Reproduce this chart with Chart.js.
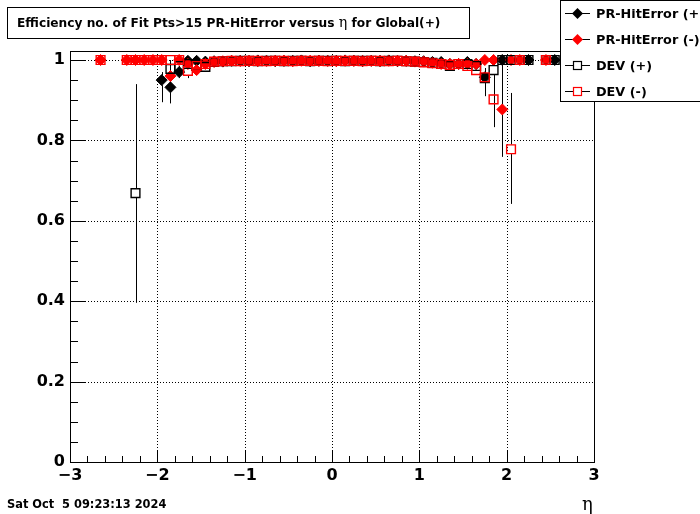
<!DOCTYPE html>
<html><head><meta charset="utf-8">
<script src="https://cdn.jsdelivr.net/npm/chart.js@4/dist/chart.umd.min.js"></script>
<style>html,body{margin:0;padding:0;background:#fff;}canvas{display:block;}</style>
</head><body>
<canvas id="c" width="700" height="514"></canvas>
<script>
// ---------- data ----------
const titlePre = 'Efficiency no. of Fit Pts>15 PR-HitError versus ';
const titleEta = 'η';
const titlePost = ' for Global(+)';
const seriesNames = ['PR-HitError (+)', 'PR-HitError (-)', 'DEV (+)', 'DEV (-)'];
const xTickValues = [-3, -2, -1, 0, 1, 2, 3];
const yTickValues = [0, 0.2, 0.4, 0.6, 0.8, 1];
const dateText = 'Sat Oct  5 09:23:13 2024';
const xAxisTitle = 'η';

const etaPRp = [-1.95,-1.85,-1.75,-1.65,-1.55,-1.45,-1.35,-1.25,-1.15,-1.05,-0.95,-0.85,-0.75,-0.65,-0.55,-0.45,-0.35,-0.25,-0.15,-0.05,0.05,0.15,0.25,0.35,0.45,0.55,0.65,0.75,0.85,0.95,1.05,1.15,1.25,1.35,1.45,1.55,1.65,1.75,1.95,2.25,2.55];
const effPRp = [0.950,0.932,0.970,0.998,0.998,0.996,0.997,0.996,0.998,0.998,0.997,0.999,0.998,0.997,0.998,0.998,0.999,0.997,0.998,0.998,0.998,0.999,0.998,0.997,0.998,0.998,0.999,0.997,0.998,0.997,0.997,0.995,0.995,0.990,0.990,0.995,0.990,0.957,1.0,1.0,1.0];

const etaPRm = [-2.65,-2.35,-2.25,-2.15,-2.05,-1.95,-1.85,-1.75,-1.65,-1.55,-1.45,-1.35,-1.25,-1.15,-1.05,-0.95,-0.85,-0.75,-0.65,-0.55,-0.45,-0.35,-0.25,-0.15,-0.05,0.05,0.15,0.25,0.35,0.45,0.55,0.65,0.75,0.85,0.95,1.05,1.15,1.25,1.35,1.45,1.55,1.65,1.75,1.85,1.95,2.05,2.15,2.45];
const effPRm = [1,1,1,1,1,1,0.960,1.0,0.990,0.975,0.990,0.995,0.997,0.998,0.998,0.998,0.997,0.998,0.998,0.998,0.997,0.998,0.998,0.998,0.998,0.997,0.998,0.998,0.998,0.998,0.997,0.998,0.998,0.998,0.996,0.996,0.993,0.990,0.990,0.990,0.990,0.990,1.0,1.0,0.877,1.0,1.0,1.0];

const etaDEVp = [-2.25,-1.85,-1.75,-1.65,-1.55,-1.45,-1.35,-1.25,-1.15,-1.05,-0.95,-0.85,-0.75,-0.65,-0.55,-0.45,-0.35,-0.25,-0.15,-0.05,0.05,0.15,0.25,0.35,0.45,0.55,0.65,0.75,0.85,0.95,1.05,1.15,1.25,1.35,1.45,1.55,1.65,1.75,1.85,1.95,2.05,2.15,2.25,2.45,2.55];
const effDEVp = [0.669,0.978,0.985,0.990,0.985,0.983,0.995,0.997,0.997,0.998,0.998,0.997,0.998,0.998,0.997,0.998,0.998,0.997,0.998,0.998,0.998,0.997,0.998,0.998,0.998,0.997,0.998,0.998,0.997,0.996,0.995,0.993,0.990,0.985,0.990,0.990,0.985,0.955,0.975,1.0,1.0,1.0,1.0,1.0,1.0];

const etaDEVm = [-2.65,-2.35,-2.25,-2.15,-2.05,-1.95,-1.85,-1.75,-1.65,-1.55,-1.45,-1.35,-1.25,-1.15,-1.05,-0.95,-0.85,-0.75,-0.65,-0.55,-0.45,-0.35,-0.25,-0.15,-0.05,0.05,0.15,0.25,0.35,0.45,0.55,0.65,0.75,0.85,0.95,1.05,1.15,1.25,1.35,1.45,1.55,1.65,1.75,1.85,2.05,2.15,2.45];
const effDEVm = [1,1,1,1,1,1,1,1,0.973,0.985,0.990,0.996,0.997,0.998,0.997,0.998,0.998,0.997,0.998,0.998,0.997,0.998,0.998,0.998,0.997,0.998,0.998,0.998,0.997,0.998,0.998,0.997,0.998,0.997,0.996,0.994,0.992,0.990,0.988,0.990,0.985,0.975,0.957,0.902,0.778,1,1];

// error bars: series index, eta, lower, upper
const errSeries = [0, 0, 0, 1, 2, 0, 2, 1, 3, 3, 2];
const errEta    = [-1.95, -1.85, -1.75, -1.85, -2.25, 1.75, 1.85, 1.95, 2.05, -1.65, 1.75];
const errLow    = [0.895, 0.892, 0.955, 0.940, 0.396, 0.910, 0.833, 0.759, 0.642, 0.955, 0.935];
const errHigh   = [0.970, 1.000, 0.985, 0.975, 0.940, 0.980, 1.000, 1.000, 0.918, 0.990, 0.975];

// ---------- styles ----------
const RED = '#ff0000', BLACK = '#000000';
const seriesColor = [BLACK, RED, BLACK, RED];
const seriesStyle = ['rectRot', 'rectRot', 'rect', 'rect'];

function pts(xs, ys) { return xs.map((x, i) => ({ x: x, y: ys[i] })); }

const datasets = [
  { label: seriesNames[0], data: pts(etaPRp, effPRp), pointStyle: 'rectRot', pointRadius: 5.5, backgroundColor: BLACK, borderColor: BLACK, borderWidth: 1, order: 4 },
  { label: seriesNames[1], data: pts(etaPRm, effPRm), pointStyle: 'rectRot', pointRadius: 5.5, backgroundColor: RED, borderColor: RED, borderWidth: 1, order: 3 },
  { label: seriesNames[2], data: pts(etaDEVp, effDEVp), pointStyle: 'rect', pointRadius: 6.2, backgroundColor: 'rgba(0,0,0,0)', borderColor: BLACK, borderWidth: 1.4, order: 2 },
  { label: seriesNames[3], data: pts(etaDEVm, effDEVm), pointStyle: 'rect', pointRadius: 6.2, backgroundColor: 'rgba(0,0,0,0)', borderColor: RED, borderWidth: 1.4, order: 1 }
];

const rootDeco = {
  id: 'rootDeco',
  beforeDatasetsDraw(chart) {
    const ctx = chart.ctx, a = chart.chartArea, xs = chart.scales.x, ys = chart.scales.y;
    ctx.save();
    ctx.strokeStyle = BLACK; ctx.lineWidth = 1; ctx.setLineDash([1, 2]);
    xTickValues.forEach(v => {
      if (v === xs.min || v === xs.max) return;
      const px = Math.round(xs.getPixelForValue(v)) + 0.5;
      ctx.beginPath(); ctx.moveTo(px, a.top); ctx.lineTo(px, a.bottom); ctx.stroke();
    });
    yTickValues.forEach(v => {
      if (v === 0) return;
      const py = Math.round(ys.getPixelForValue(v)) + 0.5;
      ctx.beginPath(); ctx.moveTo(a.left, py); ctx.lineTo(a.right, py); ctx.stroke();
    });
    ctx.setLineDash([]);
    // error bars
    ctx.lineWidth = 1;
    for (let i = 0; i < errEta.length; i++) {
      const px = Math.round(xs.getPixelForValue(errEta[i])) + 0.5;
      const ds = chart.data.datasets[errSeries[i]];
      const pt = ds.data.find(p => Math.abs(p.x - errEta[i]) < 1e-6);
      const yc = ys.getPixelForValue(pt.y);
      const gap = seriesStyle[errSeries[i]] === 'rect' ? 4.8 : 5;
      const yl = ys.getPixelForValue(errLow[i]), yh = ys.getPixelForValue(errHigh[i]);
      ctx.beginPath();
      if (yh < yc - gap) { ctx.moveTo(px, yh); ctx.lineTo(px, yc - gap); }
      if (yl > yc + gap) { ctx.moveTo(px, yc + gap); ctx.lineTo(px, yl); }
      ctx.stroke();
    }
    ctx.restore();
  },
  afterDraw(chart) {
    const ctx = chart.ctx, a = chart.chartArea, xs = chart.scales.x, ys = chart.scales.y;
    ctx.save();
    ctx.strokeStyle = BLACK; ctx.lineWidth = 1;
    // frame
    ctx.strokeRect(a.left + 0.5, a.top + 0.5, a.right - a.left, a.bottom - a.top);
    // x ticks (inside)
    ctx.beginPath();
    for (let k = -15; k <= 15; k++) {
      const v = k * 0.2;
      const px = Math.round(xs.getPixelForValue(v)) + 0.5;
      const len = (k % 5 === 0) ? 12 : 6;
      ctx.moveTo(px, a.bottom); ctx.lineTo(px, a.bottom - len);
    }
    // y ticks (inside)
    for (let k = 0; k <= 20; k++) {
      const v = k * 0.05;
      if (v > ys.max) continue;
      const py = Math.round(ys.getPixelForValue(v)) + 0.5;
      const len = (k % 4 === 0) ? 15 : 8;
      ctx.moveTo(a.left, py); ctx.lineTo(a.left + len, py);
    }
    ctx.stroke();

    // title box
    ctx.fillStyle = '#fff';
    ctx.fillRect(7, 7, 462, 31);
    ctx.strokeRect(7.5, 7.5, 462, 31);
    ctx.fillStyle = BLACK;
    const fam = '"DejaVu Sans"';
    let fs = 12.2;
    ctx.font = 'bold ' + fs + 'px ' + fam;
    ctx.textBaseline = 'alphabetic';
    ctx.textAlign = 'left';
    let x = 17, base = 27;
    ctx.fillText(titlePre, x, base);
    x += ctx.measureText(titlePre).width;
    ctx.font = (fs + 2) + 'px "DejaVu Serif"';
    ctx.fillText(titleEta, x, base);
    x += ctx.measureText(titleEta).width;
    ctx.font = 'bold ' + fs + 'px ' + fam;
    ctx.fillText(titlePost, x, base);

    // legend box
    ctx.fillStyle = '#fff';
    ctx.fillRect(560, 0, 140, 102);
    ctx.strokeRect(560.5, 0.5, 150, 101);
    const rowY = [13, 39, 65, 91];
    for (let i = 0; i < 4; i++) {
      const y = rowY[i] + 0.5;
      ctx.strokeStyle = BLACK; ctx.lineWidth = 1;
      ctx.beginPath(); ctx.moveTo(565, y); ctx.lineTo(590, y); ctx.stroke();
      const cx = 577.5;
      if (seriesStyle[i] === 'rectRot') {
        ctx.fillStyle = seriesColor[i];
        ctx.beginPath();
        ctx.moveTo(cx, y - 5.5); ctx.lineTo(cx + 5.5, y); ctx.lineTo(cx, y + 5.5); ctx.lineTo(cx - 5.5, y); ctx.closePath();
        ctx.fill();
      } else {
        ctx.fillStyle = '#fff';
        ctx.fillRect(cx - 4, y - 4, 8, 8);
        ctx.strokeStyle = seriesColor[i]; ctx.lineWidth = 1.2;
        ctx.strokeRect(cx - 4, y - 4, 8, 8);
      }
      ctx.fillStyle = BLACK;
      ctx.font = 'bold 12.8px ' + fam;
      ctx.textBaseline = 'middle';
      ctx.fillText(seriesNames[i], 596, y + 1);
    }

    // date
    ctx.font = 'bold 11.4px ' + fam;
    ctx.textBaseline = 'alphabetic';
    ctx.fillText(dateText, 7, 508);
    // axis title
    ctx.font = '18px "DejaVu Serif"';
    ctx.fillText(xAxisTitle, 582, 510);
    ctx.restore();
  }
};

const fmt = v => {
  const r = Math.round(v * 10) / 10;
  return r < 0 ? '\u2212' + String(-r) : String(r);
};

new Chart(document.getElementById('c'), {
  type: 'scatter',
  data: { datasets: datasets },
  options: {
    responsive: false,
    animation: false,
    devicePixelRatio: 1,
    layout: { padding: { left: 0, top: 51, right: 106, bottom: 22 } },
    plugins: { legend: { display: false }, tooltip: { enabled: false } },
    scales: {
      x: {
        type: 'linear', min: -3, max: 3,
        grid: { display: false, drawTicks: false },
        border: { display: false },
        ticks: { stepSize: 1, color: BLACK, padding: 4, maxRotation: 0,
          font: { family: 'DejaVu Sans', weight: 'bold', size: 16 }, callback: v => fmt(v) },
        afterFit: s => { s.height = 30; }
      },
      y: {
        type: 'linear', min: 0, max: 1.0224,
        grid: { display: false, drawTicks: false },
        border: { display: false },
        ticks: { stepSize: 0.2, includeBounds: false, color: BLACK, padding: 5,
          font: { family: 'DejaVu Sans', weight: 'bold', size: 16 }, callback: v => fmt(v) },
        afterFit: s => { s.width = 70; }
      }
    }
  },
  plugins: [rootDeco]
});
</script>
</body></html>
